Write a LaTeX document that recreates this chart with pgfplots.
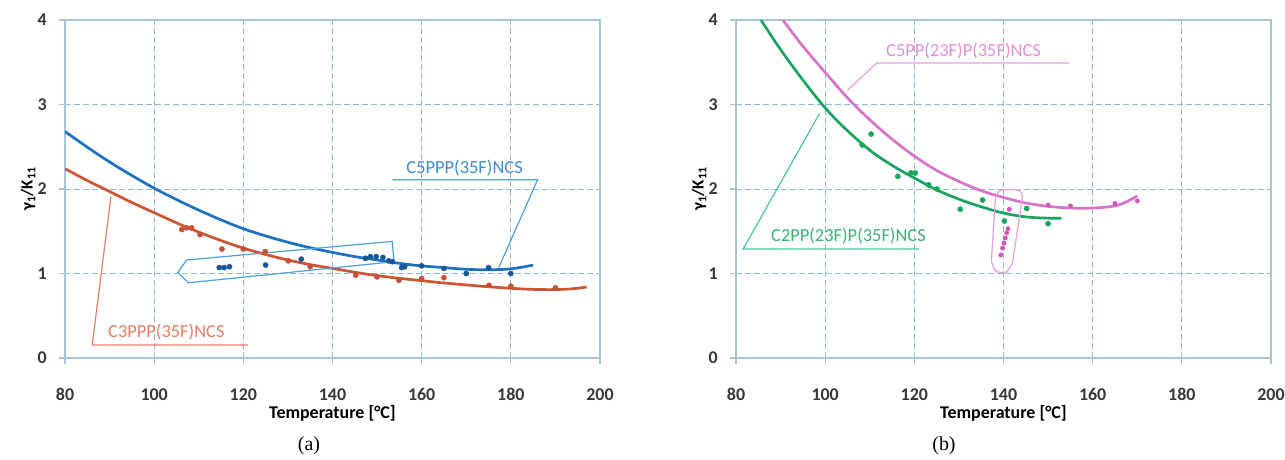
\documentclass[border=0pt]{standalone}
\usepackage{fontspec}
\setmainfont{Carlito}
\newfontfamily\capfont{Liberation Serif}
\usepackage{pgfplots}
\pgfplotsset{compat=1.18}

\definecolor{gridc}{RGB}{140,185,215}
\definecolor{axc}{RGB}{165,198,215}
\definecolor{tickc}{RGB}{55,55,55}
\definecolor{bluec}{RGB}{30,112,195}
\definecolor{bluem}{RGB}{25,88,150}
\definecolor{bluecall}{RGB}{75,160,225}
\definecolor{bluetxt}{RGB}{60,140,210}
\definecolor{redc}{RGB}{205,85,50}
\definecolor{redm}{RGB}{200,80,55}
\definecolor{redcall}{RGB}{232,125,105}
\definecolor{redtxt}{RGB}{228,125,100}
\definecolor{greenc}{RGB}{25,165,95}
\definecolor{greencall}{RGB}{70,195,165}
\definecolor{greentxt}{RGB}{55,180,115}
\definecolor{pinkc}{RGB}{215,115,200}
\definecolor{pinkm}{RGB}{210,85,185}
\definecolor{pinkcall}{RGB}{232,160,220}
\definecolor{pinktxt}{RGB}{228,140,212}

\tikzset{
  call/.style={line width=1.2bp},
  calltxt/.style={font=\fontsize{18.5}{20}\selectfont, anchor=base west},
}

\pgfplotsset{
  panel/.style={
    scale only axis, width=535bp, height=338bp,
    xmin=80, xmax=200, ymin=0, ymax=4,
    xtick={80,100,...,200}, ytick={0,1,2,3,4},
    xtick pos=left, ytick pos=left,
    grid=major,
    grid style={dash pattern=on 6bp off 3bp, color=gridc, line width=0.9bp},
    axis line style={draw=axc, line width=1.3bp},
    tick style={draw=axc, line width=1.1bp},
    tick align=outside, major tick length=6bp,
    /pgf/number format/assume math mode=true,
    tick label style={font=\fontsize{18}{20}\selectfont\bfseries, text=tickc},
    xticklabel style={anchor=base, yshift=-36.5bp},
    yticklabel style={anchor=east, inner sep=0pt, xshift=-12bp},
    xlabel={Temperature [°C]},
    xlabel style={font=\fontsize{18}{20}\selectfont\bfseries, text=black,
                  at={(axis description cs:0.5,0)}, anchor=base, yshift=-60bp},
    ylabel={γ\textsubscript{1}/K\textsubscript{11}},
    ylabel style={font=\fontsize{17}{20}\selectfont\bfseries, text=black,
                  at={(axis description cs:-0.069,0.5)}, anchor=center},
  },
  curve/.style={line width=2.7bp, smooth, tension=0.6, no marks},
  dots/.style={only marks, mark=*, mark size=2.6bp},
}

\begin{document}
\begin{tikzpicture}
\path[use as bounding box] (0,0) rectangle (1285bp,-460bp);

% ---------- (a)
\begin{axis}[panel, at={(65bp,-358bp)}, anchor=south west]
\addplot[curve, redc] coordinates {
  (80,2.24) (85,2.10) (90,1.97) (95,1.84) (100,1.72) (105,1.60) (110,1.49)
  (115,1.39) (120,1.30) (125,1.225) (130,1.16) (135,1.105) (140,1.06) (145,1.015)
  (150,0.975) (155,0.943) (160,0.915) (165,0.888) (170,0.865) (175,0.843) (180,0.825)
  (185,0.812) (190,0.81) (194,0.82) (197,0.84)};
\addplot[curve, bluec] coordinates {
  (80,2.68) (85,2.495) (90,2.32) (95,2.16) (100,2.01) (105,1.875) (110,1.75)
  (115,1.635) (120,1.53) (125,1.445) (130,1.37) (135,1.305) (140,1.25) (145,1.20)
  (150,1.16) (155,1.12) (160,1.09) (165,1.07) (170,1.05) (175,1.045)
  (180,1.055) (185,1.10)};
\addplot[dots, redm] coordinates {
  (106.2,1.52) (107.3,1.54) (108.4,1.54) (110.3,1.46) (115.2,1.29) (120,1.29)
  (124.9,1.26) (130.1,1.15) (135,1.08) (145.2,0.98) (150,0.96) (154.9,0.92)
  (160,0.94) (165,0.95) (175.1,0.86) (180,0.85) (190,0.83)};
\addplot[dots, bluem] coordinates {
  (114.6,1.07) (115.7,1.07) (116.9,1.08) (125,1.10) (133,1.17) (147.4,1.18)
  (148.5,1.20) (149.8,1.20) (151.3,1.19) (152.6,1.15) (153.4,1.14) (155.5,1.07)
  (156.2,1.08) (160,1.09) (165,1.06) (170,1.00) (175,1.07) (180,1.00)};
% callouts
\draw[call, bluecall] (axis cs:153.5,2.11) -- (axis cs:186,2.11) -- (axis cs:177.3,1.07);
\draw[call, bluecall] (axis cs:105.3,1.01) -- (axis cs:107.3,1.16) -- (axis cs:153.4,1.38)
  -- (axis cs:153.8,1.14) -- (axis cs:107.7,0.89) -- cycle;
\node[calltxt, text=bluetxt] at (axis cs:155.8,2.18) {C5PPP(35F)NCS};
\draw[call, redcall] (axis cs:121,0.154) -- (axis cs:86.1,0.154) -- (axis cs:90.3,1.91);
\node[calltxt, text=redtxt] at (axis cs:88.9,0.24) {C3PPP(35F)NCS};
\end{axis}

% ---------- (b)
\begin{axis}[panel, at={(736bp,-358bp)}, anchor=south west]
\addplot[curve, greenc] coordinates {
  (85.6,4.0) (90,3.65) (95,3.29) (100,2.96) (105,2.69) (110,2.46) (115,2.28)
  (120,2.13) (125,1.99) (130,1.88) (135,1.79) (140,1.715) (145,1.67) (150,1.655)
  (153,1.655)};
\addplot[curve, pinkc] coordinates {
  (90.5,4.0) (95,3.69) (100,3.38) (105,3.08) (110,2.82) (115,2.59) (120,2.39)
  (125,2.22) (130,2.09) (135,1.98) (140,1.90) (145,1.835) (150,1.795) (155,1.775)
  (160,1.775) (165,1.80) (168,1.86) (170,1.92)};
\addplot[dots, greenc] coordinates {
  (108.3,2.52) (110.3,2.65) (116.3,2.15) (119.2,2.19) (120.2,2.19) (123.2,2.05)
  (125.1,2.0) (130.3,1.76) (135.3,1.87) (140.2,1.62) (145.2,1.77) (150,1.59)};
\addplot[dots, pinkm, mark size=2.2bp] coordinates {
  (139.4,1.22) (139.8,1.30) (140.1,1.36) (140.4,1.42) (140.7,1.48) (141,1.53)
  (141.3,1.76) (150,1.81) (155,1.80) (165,1.83) (170,1.86)};
% callouts
\draw[call, pinkcall] (axis cs:154.8,3.49) -- (axis cs:111.6,3.49) -- (axis cs:105,3.17);
\node[calltxt, text=pinktxt] at (axis cs:112.9,3.57) {C5PP(23F)P(35F)NCS};
\draw[call, pinkcall, rounded corners=8bp] (axis cs:138.3,1.99) -- (axis cs:144.5,1.99)
  -- (axis cs:141.8,1.05) -- (axis cs:139.3,0.98) -- (axis cs:137.2,1.08) -- cycle;
\draw[call, greencall] (axis cs:121.1,1.29) -- (axis cs:81.6,1.29) -- (axis cs:98.7,2.89);
\node[calltxt, text=greentxt] at (axis cs:87.1,1.38) {C2PP(23F)P(35F)NCS};
\end{axis}

\node[font=\capfont\fontsize{20}{22}\selectfont] at (309bp,-446bp) {(a)};
\node[font=\capfont\fontsize{20}{22}\selectfont] at (944bp,-446bp) {(b)};
\end{tikzpicture}
\end{document}
